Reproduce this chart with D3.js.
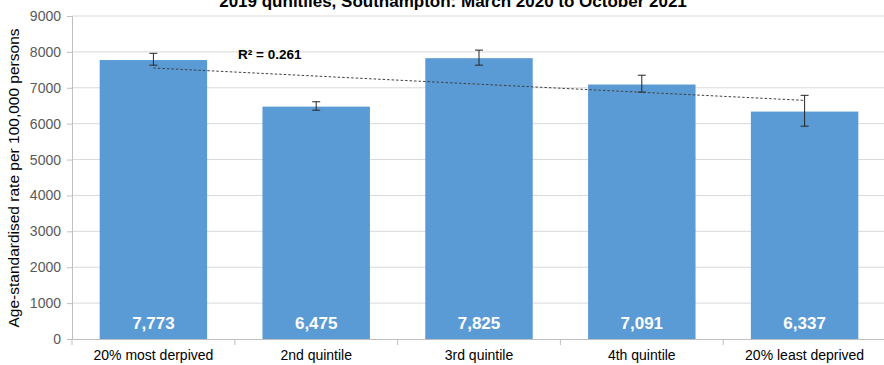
<!DOCTYPE html>
<html>
<head>
<meta charset="utf-8">
<script src="https://cdn.jsdelivr.net/npm/d3@7"></script>
<style>
  body { margin: 0; background: #fff; }
  svg { display: block; font-family: "Liberation Sans", Arial, sans-serif; }
</style>
</head>
<body>
<svg id="chart" width="884" height="365"></svg>
<script>
// Age-standardised rate by deprivation quintile
const categories = ["20% most derpived", "2nd quintile", "3rd quintile", "4th quintile", "20% least deprived"];
const rates = [7773, 6475, 7825, 7091, 6337];
const ciLower = [7630, 6375, 7630, 6880, 5930];
const ciUpper = [7960, 6610, 8050, 7350, 6790];
const yTicks = [0, 1000, 2000, 3000, 4000, 5000, 6000, 7000, 8000, 9000];
const title = "2019 qunitiles, Southampton: March 2020 to October 2021";
const yTitle = "Age-standardised rate per 100,000 persons";

const svg = d3.select("#chart");
const margin = { left: 72, right: -2, top: 16, bottom: 26 };
const W = 884, H = 365;
const FONT = "Liberation Sans, Arial, sans-serif";

const x = d3.scaleBand().domain(categories).range([margin.left, W - margin.right]).paddingInner(0.34).paddingOuter(0.17);
const xb = d3.scaleBand().domain(categories).range([margin.left, W - margin.right]);
const y = d3.scaleLinear().domain([0, 9000]).range([H - margin.bottom, margin.top]);

// gridlines
svg.append("g").selectAll("line").data(yTicks.filter(d => d > 0)).join("line")
  .attr("x1", margin.left).attr("x2", W)
  .attr("y1", d => y(d)).attr("y2", d => y(d))
  .attr("stroke", "#d9d9d9").attr("stroke-width", 1);

// bars
svg.append("g").selectAll("rect").data(rates).join("rect")
  .attr("x", (d, i) => x(categories[i]))
  .attr("width", x.bandwidth())
  .attr("y", d => y(d))
  .attr("height", d => y(0) - y(d))
  .attr("fill", "#5b9bd5");

// y axis
const yAxis = d3.axisLeft(y).tickValues(yTicks).tickSize(5).tickPadding(6).tickFormat(d3.format("d"));
const ga = svg.append("g").attr("transform", `translate(${margin.left},0)`).call(yAxis);
ga.select(".domain").attr("stroke", "#bfbfbf");
ga.selectAll(".tick line").attr("stroke", "#bfbfbf");
ga.selectAll("text").attr("fill", "#595959").style("font-size", "14px").style("font-family", FONT);

// x axis
const xAxis = d3.axisBottom(xb).tickSize(0).tickPadding(11);
const gx = svg.append("g").attr("transform", `translate(0,${y(0)})`).call(xAxis);
gx.select(".domain").attr("stroke", "#bfbfbf");
gx.selectAll("text").attr("fill", "#000").style("font-size", "14px").style("font-family", FONT);
gx.append("g").selectAll("line").data(categories).join("line")
  .attr("x1", d => xb(d)).attr("x2", d => xb(d))
  .attr("y1", 0).attr("y2", 6).attr("stroke", "#bfbfbf");

// error bars
const eg = svg.append("g").attr("stroke", "#262626").attr("stroke-width", 1);
categories.forEach((c, i) => {
  const cx = x(c) + x.bandwidth() / 2;
  eg.append("line").attr("x1", cx).attr("x2", cx).attr("y1", y(ciLower[i])).attr("y2", y(ciUpper[i]));
  eg.append("line").attr("x1", cx - 4).attr("x2", cx + 4).attr("y1", y(ciLower[i])).attr("y2", y(ciLower[i]));
  eg.append("line").attr("x1", cx - 4).attr("x2", cx + 4).attr("y1", y(ciUpper[i])).attr("y2", y(ciUpper[i]));
});

// linear trend across quintiles
const n = rates.length;
const xs = rates.map((d, i) => i + 1);
const mx = d3.mean(xs), my = d3.mean(rates);
const sxy = d3.sum(xs.map((v, i) => (v - mx) * (rates[i] - my)));
const sxx = d3.sum(xs.map(v => (v - mx) ** 2));
const slope = sxy / sxx, intercept = my - slope * mx;
const sst = d3.sum(rates.map(v => (v - my) ** 2));
const r2 = (slope * slope * sxx) / sst;
const cxAt = i => x(categories[i]) + x.bandwidth() / 2;
svg.append("line")
  .attr("x1", cxAt(0)).attr("y1", y(intercept + slope * 1))
  .attr("x2", cxAt(n - 1)).attr("y2", y(intercept + slope * n))
  .attr("stroke", "#404040").attr("stroke-width", 1).attr("stroke-dasharray", "2.5,2");

svg.append("text").attr("x", 238).attr("y", 59)
  .style("font-size", "13.5px").style("font-weight", "bold").attr("fill", "#000")
  .text(`R² = ${r2.toFixed(3)}`);

// value labels
svg.append("g").selectAll("text").data(rates).join("text")
  .attr("x", (d, i) => x(categories[i]) + x.bandwidth() / 2)
  .attr("y", y(0) - 10)
  .attr("text-anchor", "middle")
  .attr("fill", "#fff").style("font-size", "17px").style("font-weight", "bold")
  .text(d => d3.format(",")(d));

// titles
svg.append("text").attr("x", 453).attr("y", 7).attr("text-anchor", "middle")
  .style("font-size", "17px").style("font-weight", "bold").attr("fill", "#000").text(title);

svg.append("text").attr("transform", `translate(19,178) rotate(-90)`)
  .attr("text-anchor", "middle").style("font-size", "15.5px")
  .attr("fill", "#000").text(yTitle);
</script>
</body>
</html>
